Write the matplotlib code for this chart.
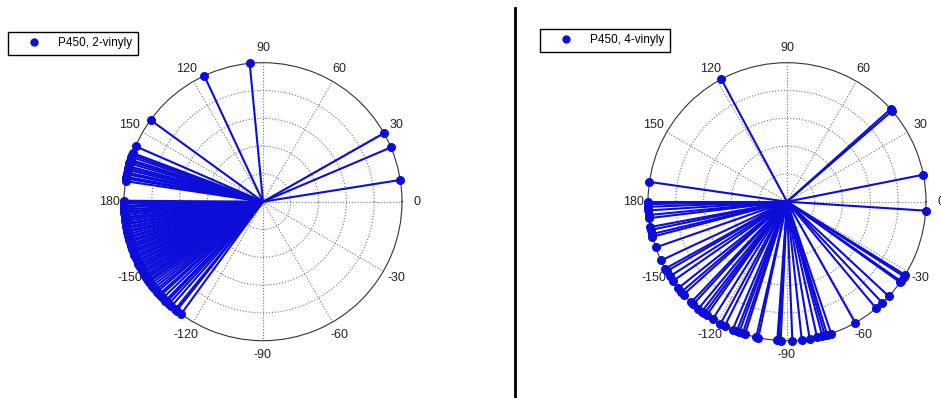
import numpy as np
import matplotlib
matplotlib.use("Agg")
import matplotlib.pyplot as plt
from matplotlib.lines import Line2D

plt.rcParams['font.family'] = ['Liberation Sans', 'DejaVu Sans']

# heme vinyl orientation angles (degrees), one spoke per frame
angles_2vinyl = [9, 23, 29.5, 95.5, 115, 144, 156.5,
                 159.5, 160.3, 161.2, 162.4, 163.1, 164.0, 165.2, 166.0, 166.8,
                 167.9, 168.6, 169.7, 170.4, 171.5,
                 179.6, 180.0, -179.3, -178.4, -177.7, -176.8, -176.0, -175.3,
                 -174.5, -173.6, -172.9, -172.1, -171.2, -170.6, -169.7, -168.9,
                 -168.0, -167.4, -166.5, -165.6, -164.9, -164.0, -163.3, -162.4,
                 -161.6, -160.9, -160.0, -159.2, -158.5, -157.6, -156.8, -156.1,
                 -155.2, -154.5, -153.6, -152.8, -152.0, -151.3, -150.4, -149.6,
                 -148.8, -147.9, -147.2, -146.4, -145.5, -144.8, -143.8, -142.7,
                 -141.6, -140.5, -139.6, -138.3, -137.5, -136.1, -134.6, -133.9,
                 -132.7, -131.2, -129.2, -128.4, -126.1]

angles_4vinyl = [118.2, 41.8, 40.8, 11.2, -3.7, 171.8,
                 180.0, -179.0, -177.9, -176.4, -174.5, -173.2, -169.5, -168.3,
                 -166.5, -165.4, -160.8, -155.0, -151.2, -150.0, -147.5, -145.2,
                 -141.5, -139.5, -138.1, -133.6, -132.4, -129.6, -127.8, -126.5,
                 -125.3, -122.3, -118.6, -116.6, -113.0, -111.2, -110.1, -108.6,
                 -107.6, -102.8, -101.9, -94.0, -93.4, -92.6, -87.8, -83.9,
                 -80.6, -77.5, -75.3, -74.2, -73.2, -71.5, -60.6, -50.1, -46.7,
                 -42.9, -35.5, -34.9, -32.6, -31.8]

labels = ["P450, 2-vinyly", "P450, 4-vinyly"]
tick_deg = [0, 30, 60, 90, 120, 150, 180, 210, 240, 270, 300, 330]
tick_txt = ["0", "30", "60", "90", "120", "150", "180",
            "-150", "-120", "-90", "-60", "-30"]

blue = (0.05, 0.05, 0.85)

fig = plt.figure(figsize=(9.41, 3.98), dpi=100)
W, H = 941, 398


def polar_axes(cx, cy, r):
    rect = [(cx - r) / W, (H - cy - r) / H, 2 * r / W, 2 * r / H]
    ax = fig.add_axes(rect, projection='polar')
    ax.set_ylim(0, 1)
    ax.set_yticks([0.2, 0.4, 0.6, 0.8])
    ax.set_yticklabels([])
    ax.set_xticks(np.deg2rad(tick_deg))
    ax.set_xticklabels(tick_txt, fontsize=9, color='#222222')
    ax.tick_params(axis='x', pad=0)
    ax.grid(True, linestyle=':', color='0.45', linewidth=0.8)
    ax.spines['polar'].set_color('0.2')
    ax.spines['polar'].set_linewidth(0.8)
    return ax


def draw(ax, angles):
    for a in angles:
        t = np.deg2rad(a)
        ax.plot([t, t], [0, 1], color=blue, lw=1.5, zorder=3)
        ax.plot([t], [1], 'o', color=blue, ms=5.5, zorder=4, clip_on=False)


ax1 = polar_axes(263, 201.7, 139)
draw(ax1, angles_2vinyl)
ax2 = polar_axes(787, 201.7, 139)
draw(ax2, angles_4vinyl)

for lab, (x0, y0) in zip(labels, [(8, 32), (540, 29)]):
    h = Line2D([], [], color=blue, marker='o', ms=5, linestyle='none')
    fig.legend([h], [lab], loc='upper left',
               bbox_to_anchor=(x0 / W, 1 - y0 / H),
               fancybox=False, edgecolor='black', framealpha=1,
               borderaxespad=0, fontsize=8.5, handlelength=3.5,
               borderpad=0.45, handletextpad=0.3)

# divider between the two panels
fig.add_artist(Line2D([515 / W, 515 / W], [0, 1 - 8 / H],
                      transform=fig.transFigure, color='black', lw=2))

fig.savefig("out.png", dpi=100)
